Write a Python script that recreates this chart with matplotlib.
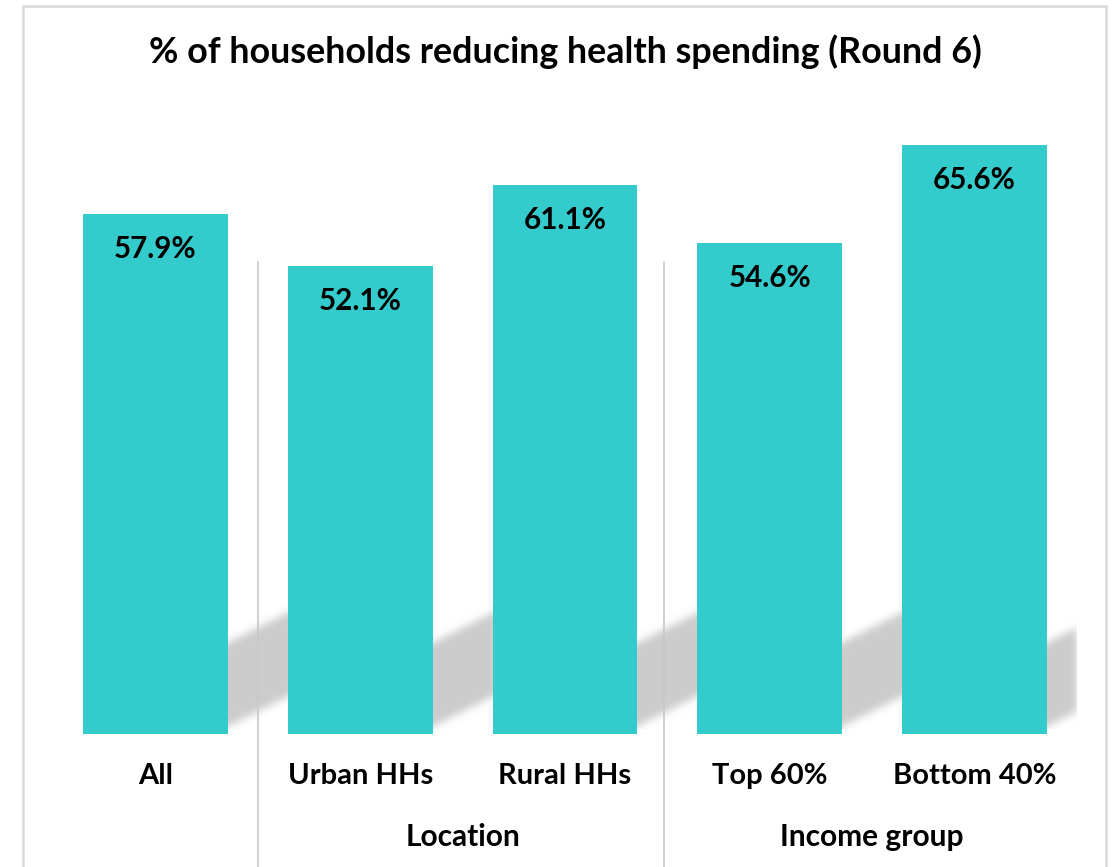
import numpy as np
import matplotlib.pyplot as plt
from matplotlib.patches import Rectangle
from matplotlib.transforms import blended_transform_factory

categories = ["All", "Urban HHs", "Rural HHs", "Top 60%", "Bottom 40%"]
values = [57.9, 52.1, 61.1, 54.6, 65.6]
groups = ["Location", "Income group"]
group_spans = [(1, 2), (3, 4)]

bar_color = "#33CBCC"
W, H, DPI = 1119, 867, 100

plt.rcParams["font.family"] = ["Lato", "DejaVu Sans"]
plt.rcParams["font.weight"] = "bold"

fig = plt.figure(figsize=(W / DPI, H / DPI), dpi=DPI)
# plot area in pixels: x 53..1077, y 105..734
ax = fig.add_axes([53 / W, (H - 734) / H, 1024 / W, 629 / H])
ax.set_xlim(-0.5, len(categories) - 0.5)
ax.set_ylim(0, 70)
ax.axis("off")

x = np.arange(len(categories))
bar_w = 0.707
ax.bar(x, values, width=bar_w, color=bar_color, zorder=3)

# soft slanted shadow band behind the bars
px_x = 1024 / (len(categories))          # pixels per x unit
px_y = 629 / 70                         # pixels per y unit
nx, ny = 1024, 629
gx = np.linspace(-0.5, len(categories) - 0.5, nx)
gy = np.linspace(0, 70, ny)
GX, GY = np.meshgrid(gx, gy)
mask = np.zeros_like(GX)
for xi in x:
    d = (GX - (xi + bar_w / 2)) * px_x
    h = GY * px_y
    inside = (d > -20) & (d < 90) & (h > 7 + 0.5 * d) & (h < 91 + 0.5 * d)
    mask[inside] = 1.0
k = np.exp(-0.5 * (np.arange(-12, 13) / 4.0) ** 2)
k /= k.sum()
mask = np.apply_along_axis(lambda r: np.convolve(r, k, mode="same"), 1, mask)
mask = np.apply_along_axis(lambda c: np.convolve(c, k, mode="same"), 0, mask)
mask[gy < 0.5, :] *= 0  # keep the band off the baseline
rgba = np.zeros((ny, nx, 4))
rgba[..., :3] = 0.8
rgba[..., 3] = np.clip(mask, 0, 1)
ax.imshow(rgba, extent=(-0.5, len(categories) - 0.5, 0, 70), origin="lower",
          aspect="auto", zorder=1, interpolation="bilinear")
ax.set_xlim(-0.5, len(categories) - 0.5)
ax.set_ylim(0, 70)

for xi, v in zip(x, values):
    ax.annotate(f"{v:.1f}%", (xi, v), xytext=(0, -35 * 72 / DPI),
                textcoords="offset points", ha="center", va="center",
                fontsize=21.3, fontweight="bold", zorder=4)
    ax.annotate(categories[xi], (xi, 0), xytext=(0, -42 * 72 / DPI),
                textcoords="offset points", ha="center", va="center",
                fontsize=21, fontweight="bold")

for name, (a, b) in zip(groups, group_spans):
    ax.annotate(name, ((a + b) / 2, 0), xytext=(0, -103 * 72 / DPI),
                textcoords="offset points", ha="center", va="center",
                fontsize=21.5, fontweight="bold")

# group separators running down past the axis labels
trans = blended_transform_factory(ax.transData, fig.transFigure)
for sx in [0.5, 2.485]:
    ax.plot([sx, sx], [(H - 262) / H, 0], transform=trans, color="#C8C8C8",
            lw=1.2, clip_on=False, zorder=2)

fig.text(565 / W, 1 - 52 / H, "% of households reducing health spending (Round 6)",
         ha="center", va="center", fontsize=25.8, fontweight="bold")

fig.patches.append(Rectangle((23 / W, -0.01), (1106 - 23) / W, (H - 6) / H + 0.01,
                             transform=fig.transFigure, fill=False,
                             edgecolor="#D9D9D9", lw=1.8))

fig.savefig("out.png", dpi=DPI)
